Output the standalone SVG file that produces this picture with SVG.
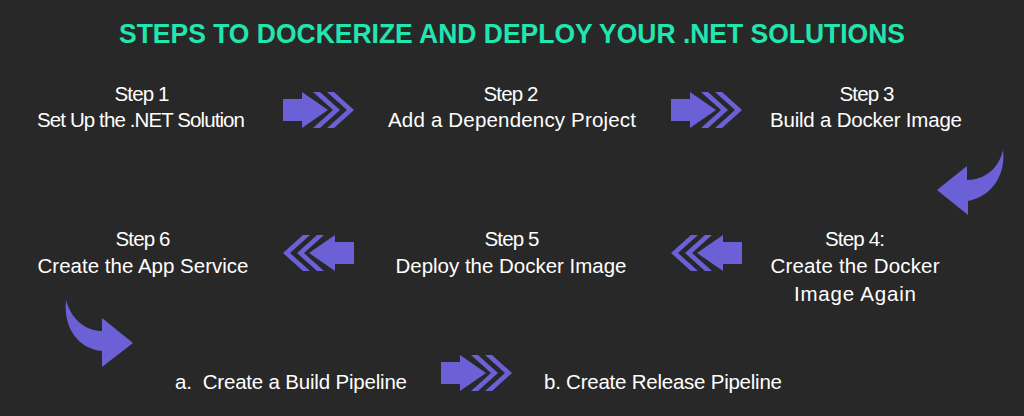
<svg xmlns="http://www.w3.org/2000/svg" width="1024" height="416" viewBox="0 0 1024 416">
<style>
.t{font-family:"Liberation Sans",Arial,sans-serif;font-size:20.5px;fill:#ffffff;text-anchor:middle}
.b{font-family:"Liberation Sans",Arial,sans-serif;font-size:20.5px;fill:#ffffff;white-space:pre}
.title{font-family:"Liberation Sans",Arial,sans-serif;font-size:27px;font-weight:bold;fill:#22e6b0;text-anchor:middle}
.ar{fill:#6b60d6}
</style>
<defs>
<g id="rarrow">
<rect x="0" y="-11" width="21" height="22"/>
<polygon points="19,-18 45,0 19,18"/>
<polygon points="30,-18 37,-18 57,0 37,18 30,18 50,0"/>
<polygon points="44,-18 51,-18 71,0 51,18 44,18 64,0"/>
</g>
</defs>
<rect width="1024" height="416" fill="#292828"/>
<text class="title" x="512" y="43" textLength="786" lengthAdjust="spacingAndGlyphs">STEPS TO DOCKERIZE AND DEPLOY YOUR .NET SOLUTIONS</text>
<g id="step1"><text class="t" x="142" y="101" textLength="55">Step 1</text><text class="t" x="141" y="127" textLength="208">Set Up the .NET Solution</text></g>
<g id="step2"><text class="t" x="511" y="101" textLength="55">Step 2</text><text class="t" x="512" y="127" textLength="248">Add a Dependency Project</text></g>
<g id="step3"><text class="t" x="867" y="101" textLength="55">Step 3</text><text class="t" x="866" y="127" textLength="192">Build a Docker Image</text></g>
<g id="step4"><text class="t" x="855" y="246" textLength="60">Step 4:</text><text class="t" x="855" y="273" textLength="169">Create the Docker</text><text class="t" x="855" y="301" textLength="122">Image Again</text></g>
<g id="step5"><text class="t" x="512" y="246" textLength="55">Step 5</text><text class="t" x="511" y="273" textLength="231">Deploy the Docker Image</text></g>
<g id="step6"><text class="t" x="143" y="246" textLength="55">Step 6</text><text class="t" x="143" y="273" textLength="211">Create the App Service</text></g>
<g id="stepa"><text class="b" x="175" y="389" xml:space="preserve" textLength="232">a.  Create a Build Pipeline</text></g>
<g id="stepb"><text class="b" x="544" y="389" textLength="238">b. Create Release Pipeline</text></g>
<g id="connectors" class="ar">
<use href="#rarrow" transform="translate(283,110)"/>
<use href="#rarrow" transform="translate(671,110)"/>
<use href="#rarrow" transform="translate(354,253) scale(-1,1)"/>
<use href="#rarrow" transform="translate(742,253) scale(-1,1)"/>
<use href="#rarrow" transform="translate(441,373)"/>
<path d="M1003,150 C1006,172 994,196 968,201 L968,215 L937,190 L967,166 L967,180 C985,180 999,168 1003,150 Z"/>
<path d="M66,300 C63,330 80,349 102,351 L102,367 L133,343 L102,318 L102,331 C88,331 72,322 66,300 Z"/>
</g>
</svg>
